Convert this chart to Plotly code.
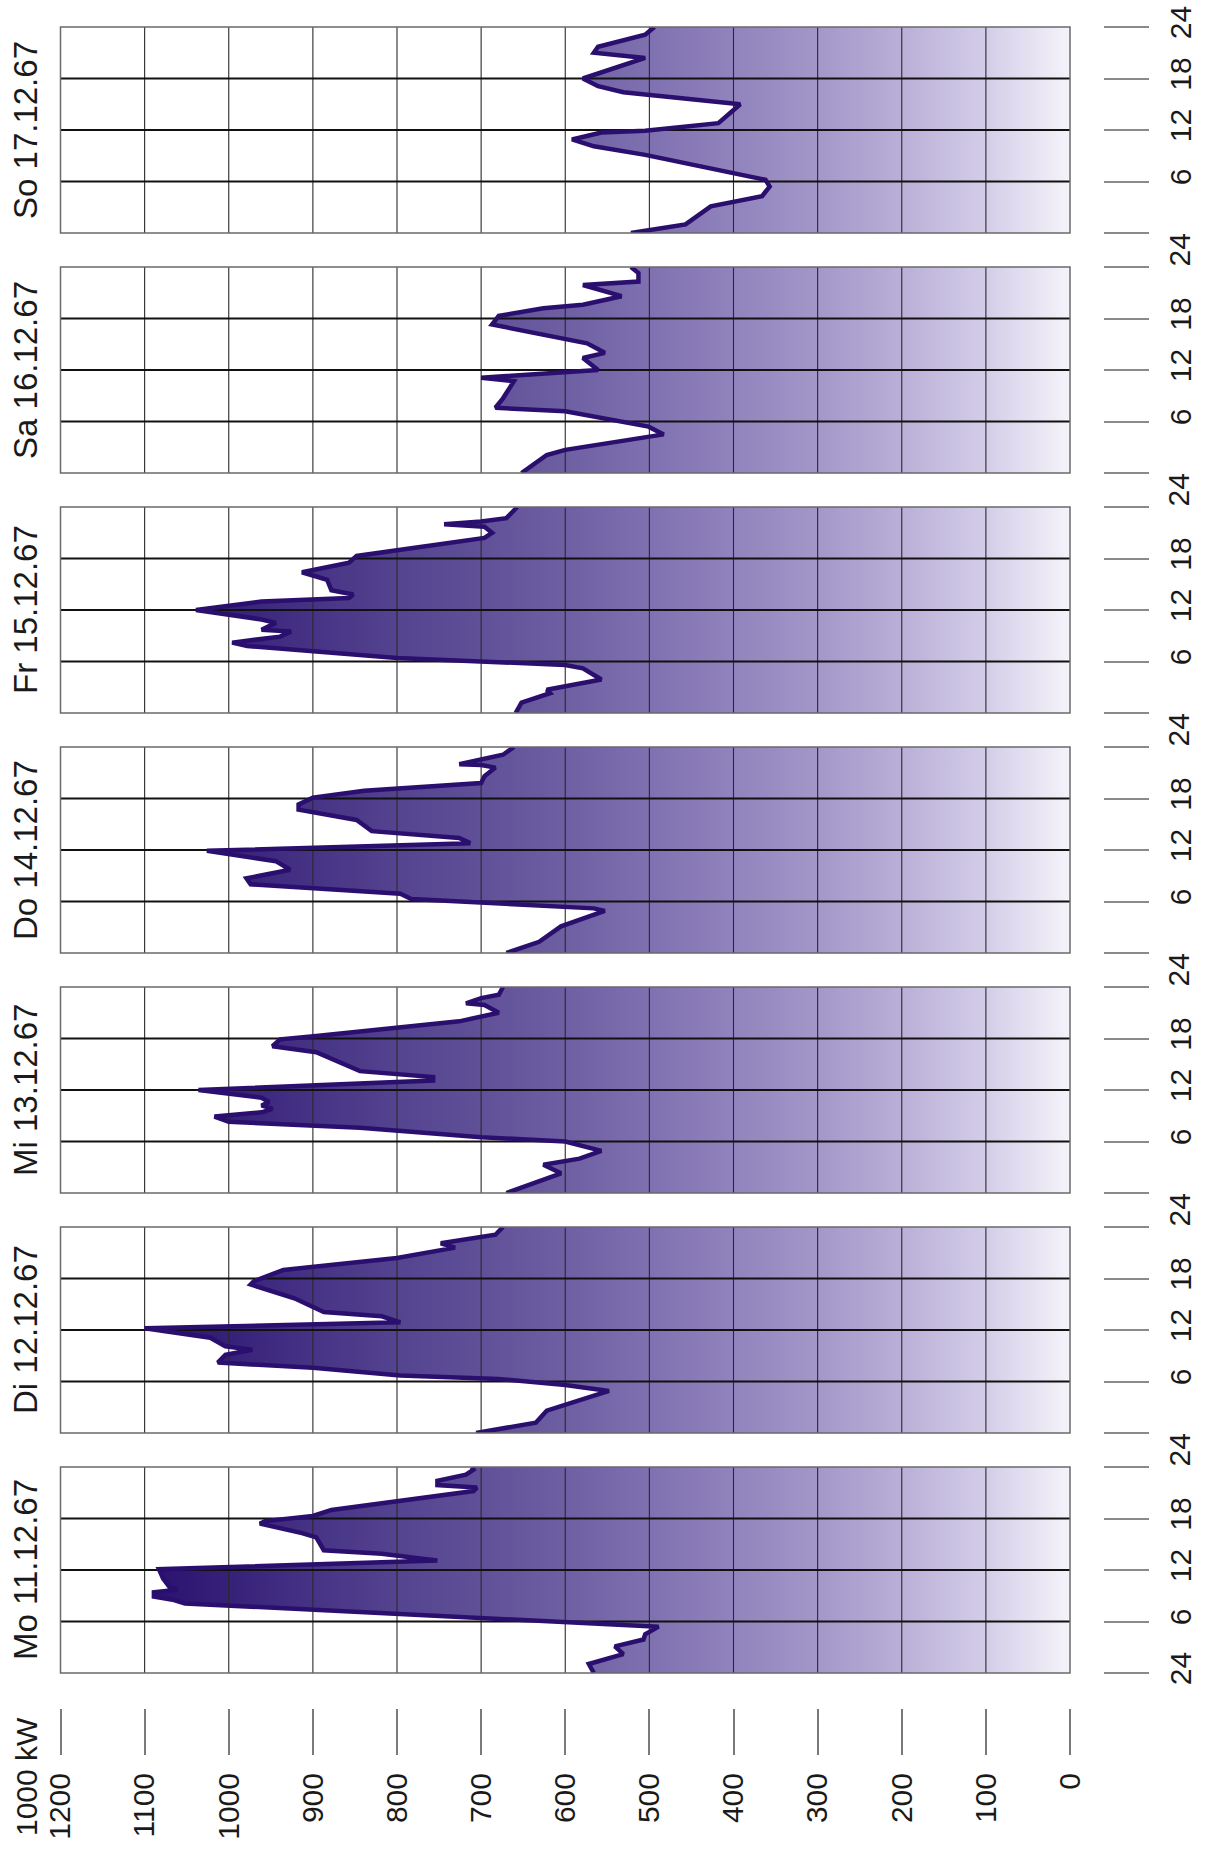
import plotly.graph_objects as go

# Tageslastgang 11.-17.12.1967, Leistung in kW über der Tageszeit (Stunden)
days = ["Mo 11.12.67", "Di 12.12.67", "Mi 13.12.67", "Do 14.12.67",
        "Fr 15.12.67", "Sa 16.12.67", "So 17.12.67"]

mo_hours = [0, 1.05, 2.2, 3.1, 3.9, 4.5, 5.4, 8.1, 8.5, 8.9, 9.4, 9.7, 10.1, 11.0, 12.1,
            13.1, 13.3, 13.9, 14.3, 15.8, 16.3, 17.4, 17.7, 18.3, 19.0, 20.0, 21.2, 21.6,
            21.9, 22.4, 23.1, 23.7, 24]
mo_kw = [566, 572, 531, 541, 507, 505, 489, 1052, 1065, 1089, 1089, 1061, 1071, 1078, 1083,
         752, 770, 818, 887, 896, 913, 963, 957, 900, 878, 800, 709, 705,
         752, 752, 718, 709, 711]

di_hours = [0, 1.2, 2.6, 4.9, 5.6, 6.3, 6.7, 7.6, 8.2, 9.1, 9.7, 10.1, 11.1, 12.2, 12.9,
            13.6, 14.1, 15.7, 17.3, 17.7, 19.0, 20.4, 21.6, 22.1, 23.1, 24]
di_kw = [706, 635, 622, 548, 600, 679, 796, 900, 1013, 1004, 972, 1004, 1022, 1100, 796,
         818, 887, 922, 974, 970, 935, 800, 731, 748, 683, 674]

mi_hours = [0, 2.3, 3.3, 4.0, 4.9, 6.0, 6.5, 7.6, 8.3, 8.9, 9.4, 9.8, 10.2, 10.6, 11.1, 12.0,
            13.1, 13.5, 14.2, 16.4, 17.1, 17.9, 18.3, 20.0, 21.0, 21.9, 22.1, 22.7, 23.1, 24]
mi_kw = [670, 605, 626, 583, 557, 600, 700, 844, 1000, 1017, 961, 948, 961, 952, 961, 1036,
         757, 757, 844, 896, 948, 939, 896, 726, 679, 696, 718, 700, 679, 674]

do_hours = [0, 1.3, 3.1, 4.9, 5.2, 6.3, 6.9, 8.0, 8.7, 9.7, 10.7, 11.9, 12.8, 13.4, 14.2,
            15.5, 16.7, 17.3, 18.1, 18.9, 19.8, 20.6, 21.6, 21.9, 22.0, 22.5, 23.1, 24]
do_kw = [670, 631, 605, 553, 566, 783, 796, 974, 979, 927, 944, 1026, 713, 726, 830,
         848, 917, 917, 900, 839, 700, 696, 683, 700, 726, 700, 674, 661]

fr_hours = [0, 1.2, 2.3, 2.7, 3.9, 5.2, 5.6, 6.4, 7.8, 8.2, 8.9, 9.5, 9.7, 10.5, 10.9, 12.0,
            13.0, 13.4, 13.8, 14.3, 15.5, 16.4, 17.5, 18.3, 20.4, 21.0, 21.7, 22.0, 22.3,
            22.7, 24]
fr_kw = [659, 652, 618, 622, 557, 579, 600, 800, 978, 996, 939, 926, 961, 944, 961, 1039,
         961, 857, 852, 878, 883, 913, 857, 848, 696, 687, 696, 744, 700,
         670, 657]

sa_hours = [0, 2.1, 2.7, 4.5, 5.4, 7.2, 7.6, 8.7, 10.7, 11.1, 12.0, 13.4, 14.0, 15.1, 17.3,
            18.3, 19.2, 19.6, 20.6, 21.9, 22.3, 23.3, 24]
sa_kw = [652, 622, 600, 483, 501, 600, 683, 674, 661, 700, 561, 579, 553, 574, 687,
         679, 626, 579, 533, 579, 513, 513, 522]

so_hours = [0, 1.0, 3.1, 4.3, 5.4, 6.2, 9.1, 10.1, 10.9, 11.7, 11.9, 12.8, 15.0, 16.4, 17.1,
            18.0, 20.4, 21.0, 21.7, 23.1, 24]
so_kw = [522, 457, 427, 366, 357, 362, 505, 566, 592, 557, 505, 418, 392, 531, 561,
         579, 505, 566, 561, 505, 494]

day_hours = [mo_hours, di_hours, mi_hours, do_hours, fr_hours, sa_hours, so_hours]
day_kw = [mo_kw, di_kw, mi_kw, do_kw, fr_kw, sa_kw, so_kw]

kw_ticks = list(range(0, 1300, 100))
hour_ticks = [0, 6, 12, 18, 24]
hour_grid = [6, 12, 18]

# Farbverlauf der Fläche: hell bei 0 kW, dunkelviolett bei 1200 kW
gradient = [
    [0.000, "#f5f3fa"], [0.083, "#d4cde8"], [0.167, "#b9afd7"], [0.250, "#a397c9"],
    [0.333, "#9183bd"], [0.417, "#7f70b0"], [0.500, "#6e5fa3"], [0.583, "#605098"],
    [0.667, "#54438f"], [0.750, "#463385"], [0.833, "#362179"], [0.917, "#29106e"],
    [1.000, "#200766"],
]
line_color = "#2b0f6e"
font_family = "Liberation Sans, Arial, sans-serif"
text_color = "#1a1a1a"

W, H = 1207, 1854
px_left, px_right = 60.5, 1070
panel_px = 206
panel_tops = [1467, 1227, 987, 747, 507, 267, 27]   # Mo ... So
kw_axis_px = 1708       # top of the kW ticks
hour_axis_px = 1103     # left end of the hour ticks
hour_label_px = 1178.5

fig = go.Figure()
layout = dict(
    width=W, height=H, margin=dict(l=0, r=0, t=0, b=0, pad=0, autoexpand=False),
    paper_bgcolor="white", plot_bgcolor="white", showlegend=False,
    font=dict(family=font_family, size=30, color=text_color),
)
shapes, annotations = [], []


def label(text, x_px, y_px, size):
    return dict(text=text, xref="paper", yref="paper", x=x_px / W, y=1 - y_px / H,
                xanchor="center", yanchor="middle", textangle=-90, showarrow=False,
                font=dict(size=size, family=font_family, color=text_color))


for i, (hrs, kw) in enumerate(zip(day_hours, day_kw)):
    n = "" if i == 0 else str(i + 1)
    xa, ya = "x" + n, "y" + n
    top = panel_tops[i]
    dom_y = [1 - (top + panel_px) / H, 1 - top / H]

    # Fläche zwischen Lastkurve und 0 kW
    fig.add_trace(go.Scatter(
        x=kw, y=hrs, xaxis=xa, yaxis=ya, mode="lines",
        line=dict(width=0, color="rgba(0,0,0,0)"),
        fill="tozerox",
        fillgradient=dict(type="horizontal", colorscale=gradient, start=0, stop=1200),
        hoverinfo="skip",
    ))
    # Gitter über der Fläche
    gx, gy = [], []
    for v in kw_ticks[1:-1]:
        gx += [v, v, None]
        gy += [0, 24, None]
    fig.add_trace(go.Scatter(x=gx, y=gy, xaxis=xa, yaxis=ya, mode="lines",
                             line=dict(color="#2a2a2a", width=1.1), hoverinfo="skip"))
    hx, hy = [], []
    for h in hour_grid:
        hx += [0, 1200, None]
        hy += [h, h, None]
    fig.add_trace(go.Scatter(x=hx, y=hy, xaxis=xa, yaxis=ya, mode="lines",
                             line=dict(color="#111111", width=2), hoverinfo="skip"))
    # Lastkurve
    fig.add_trace(go.Scatter(x=kw, y=hrs, xaxis=xa, yaxis=ya, mode="lines",
                             line=dict(color=line_color, width=4.5), hoverinfo="skip"))

    xaxis = dict(domain=[px_left / W, px_right / W], range=[1200, 0], automargin=False,
                 showgrid=False, zeroline=False, showline=False, fixedrange=True,
                 tickvals=kw_ticks, anchor=ya)
    if i == 0:
        xaxis.update(anchor="free", position=1 - kw_axis_px / H, side="bottom",
                     ticks="outside", ticklen=46, tickwidth=1.5, tickcolor="#7a7a7a",
                     tickangle=-90, showticklabels=True, ticklabelstandoff=6,
                     tickfont=dict(size=30, family=font_family, color=text_color))
    else:
        xaxis.update(ticks="", showticklabels=False)
    layout["xaxis" + n] = xaxis

    ticktext = ["", "6", "12", "18", ""]
    if i == 0:
        ticktext[0] = "24"
    if i == len(days) - 1:
        ticktext[-1] = "24"
    layout["yaxis" + n] = dict(
        domain=dom_y, range=[0, 24], anchor="free", position=hour_axis_px / W,
        side="right", ticks="outside", ticklen=45, tickwidth=1.5, tickcolor="#8a8a8a",
        tickvals=hour_ticks, ticktext=ticktext, tickangle=-90, ticklabelstandoff=6,
        tickfont=dict(size=30, family=font_family, color=text_color), automargin=False,
        showgrid=False, zeroline=False, showline=False, fixedrange=True,
    )

    # Rahmen des Tagesfeldes
    shapes.append(dict(type="rect", xref=xa + " domain", yref=ya + " domain",
                       x0=0, x1=1, y0=0, y1=1, layer="above",
                       line=dict(color="#6a6a6a", width=1.5)))
    # Tagesbeschriftung links
    annotations.append(label(days[i], 25, top + panel_px / 2, 33))
    # "24" zwischen zwei Tagesfeldern
    if i > 0:
        gap_mid = (panel_tops[i] + panel_px + panel_tops[i - 1]) / 2
        annotations.append(label("24", hour_label_px, gap_mid, 30))

annotations.append(label("1000 kW", 26, 1777, 30))

layout["shapes"] = shapes
layout["annotations"] = annotations
fig.update_layout(**layout)
fig.write_html("out.html")
